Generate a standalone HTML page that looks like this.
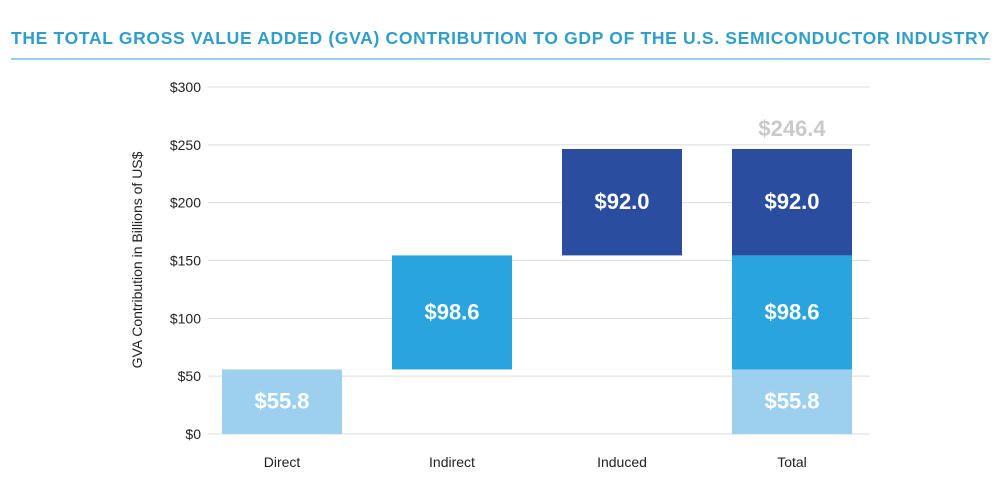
<!DOCTYPE html>
<html><head><meta charset="utf-8"><style>
body{margin:0;background:#fff;width:1000px;height:474px;overflow:hidden;font-family:"Liberation Sans",sans-serif}
</style></head><body>
<svg width="1000" height="474">
<text x="11" y="44" font-size="17.5" font-weight="bold" fill="#2f9ecb" letter-spacing="0.7" textLength="979">THE TOTAL GROSS VALUE ADDED (GVA) CONTRIBUTION TO GDP OF THE U.S. SEMICONDUCTOR INDUSTRY</text>
<line x1="11" y1="59" x2="990" y2="59" stroke="#5ab5dc" stroke-width="1.2"/>
<text transform="translate(142,260) rotate(-90)" text-anchor="middle" font-size="14" fill="#222">GVA Contribution in Billions of US$</text>
<g id="grid"></g><g id="bars"></g>
</svg>
<script>
const categories=["Direct","Indirect","Induced","Total"];
const direct=55.8, indirect=98.6, induced=92.0;
const ticks=[0,50,100,150,200,250,300];
const totalLabel="$246.4";
const svg=document.querySelector('svg'),NS="http://www.w3.org/2000/svg";
const y=v=>434-v*347/300;
const xc=i=>282+i*170;
function el(t,a,p){const e=document.createElementNS(NS,t);for(const k in a)e.setAttribute(k,a[k]);(p||svg).appendChild(e);return e;}
const g=document.getElementById('grid'),b=document.getElementById('bars');
ticks.forEach(t=>{
 const l=el('line',{x1:208,x2:870,y1:y(t),y2:y(t),stroke:'#dcdcdc','stroke-width':1},g);
 
 
 const tx=el('text',{x:201,y:y(t)+5,'text-anchor':'end','font-size':14,fill:'#222'},g);
 tx.textContent='$'+t;
 
 
});
const colors={d:'#9dd0ef',i:'#29a4dd',n:'#2b4d9f'};
function seg(i,lo,hi,c,name,val){
 const r=el('rect',{x:xc(i)-60,y:y(hi),width:120,height:y(lo)-y(hi),fill:c},b);
 
 
 const t=el('text',{x:xc(i),y:(y(lo)+y(hi))/2+7,'text-anchor':'middle','font-size':22,'font-weight':'bold',fill:'#fff'},b);
 t.textContent='$'+val.toFixed(1);
 
 
}
seg(0,0,direct,colors.d,'bar-direct',direct);
seg(1,direct,direct+indirect,colors.i,'bar-indirect',indirect);
seg(2,direct+indirect,direct+indirect+induced,colors.n,'bar-induced',induced);
seg(3,0,direct,colors.d,'bar-total-direct',direct);
seg(3,direct,direct+indirect,colors.i,'bar-total-indirect',indirect);
seg(3,direct+indirect,direct+indirect+induced,colors.n,'bar-total-induced',induced);
const tl=el('text',{x:xc(3),y:y(direct+indirect+induced)-13,'text-anchor':'middle','font-size':22,'font-weight':'bold',fill:'#c9c9c9'},b);
tl.textContent=totalLabel;


categories.forEach((c,i)=>{
 const t=el('text',{x:xc(i),y:467,'text-anchor':'middle','font-size':14,fill:'#222'},b);
 t.textContent=c;
 
 
});
</script>
</body></html>
